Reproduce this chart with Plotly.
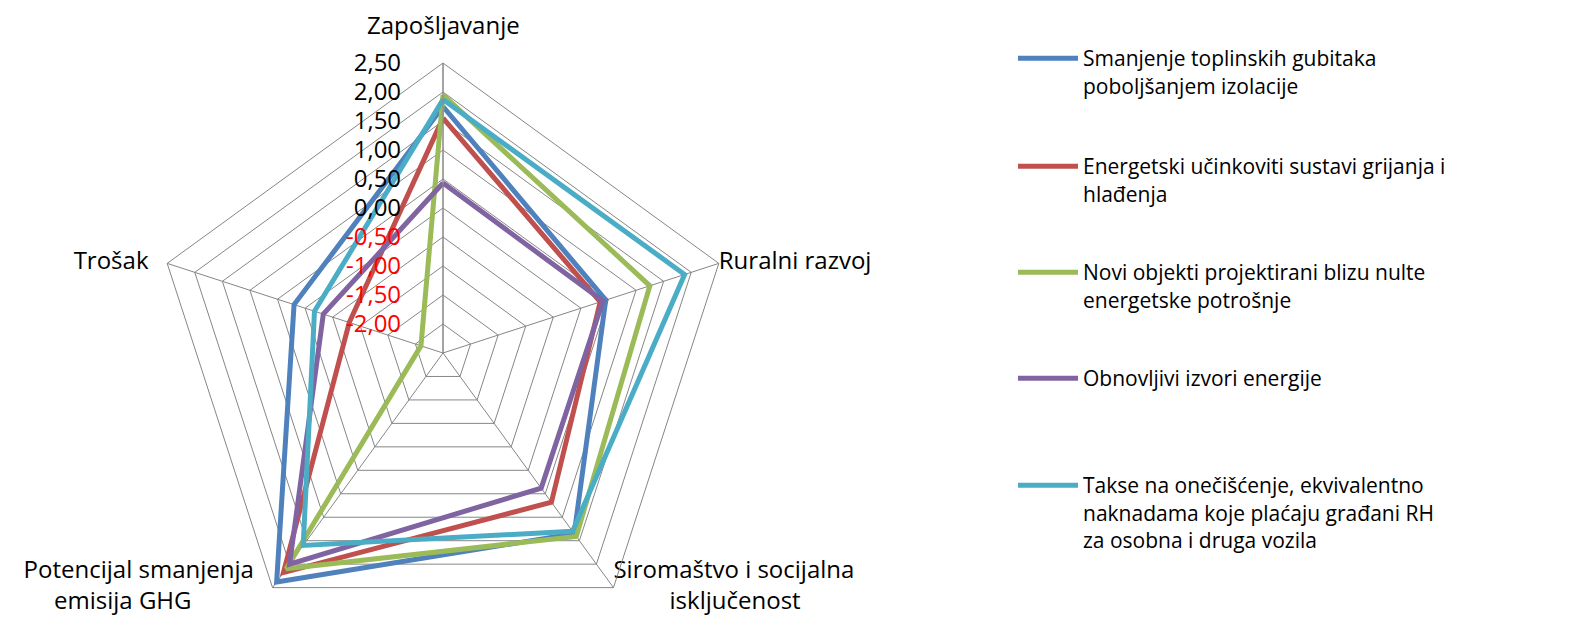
import plotly.graph_objects as go

NB = "&nbsp;"
categories = ["Zapošljavanje", "Ruralni razvoj", "Siromaštvo i socijalna isključenost",
              "Potencijal smanjenja emisija GHG", "Trošak"]
category_labels = ["Zapošljavanje",
                   "Ruralni razvoj",
                   "Siromaštvo i socijalna<br>" + NB * 9 + "isključenost",
                   "Potencijal smanjenja" + NB * 3 + "<br>emisija GHG" + NB * 13,
                   "Trošak" + NB * 3]
label_positions = ["top center", "middle right", "middle right", "middle left", "middle left"]

series_names = [
    "Smanjenje toplinskih gubitaka<br>poboljšanjem izolacije",
    "Energetski učinkoviti sustavi grijanja i<br>hlađenja",
    "Novi objekti projektirani blizu nulte<br>energetske potrošnje",
    "Obnovljivi izvori energije",
    "Takse na onečišćenje, ekvivalentno<br>naknadama koje plaćaju građani RH<br>za osobna i druga vozila",
]

izolacija = [1.75, 0.45, 1.35, 2.38, 0.20]
grijanje = [1.55, 0.35, 0.68, 2.18, -0.80]
nulta = [1.95, 1.25, 1.41, 2.10, -2.10]
obnovljivi = [0.43, 0.40, 0.38, 2.00, -0.33]
takse = [1.87, 1.88, 1.30, 1.60, -0.17]

series_values = [izolacija, grijanje, nulta, obnovljivi, takse]
colors = ["#4F81BD", "#C0504D", "#9BBB59", "#8064A2", "#4BACC6"]

r_min, r_max = -2.5, 2.5
tick_vals = [-2.0, -1.5, -1.0, -0.5, 0.0, 0.5, 1.0, 1.5, 2.0, 2.5]
tick_text = ["-2,00", "-1,50", "-1,00", "-0,50", "0,00", "0,50", "1,00", "1,50", "2,00", "2,50"]
tick_labels = [f'<span style="color:#FF0000">{t}</span>' if v < 0 else t for v, t in zip(tick_vals, tick_text)]

legend_ids = ["legend", "legend2", "legend3", "legend4", "legend5"]
legend_top_px = [30, 138, 244, 350, 457]

W, H = 1587, 641
FONT = "Open Sans"
dom_x = [145 / W, 725 / W]
dom_y = [6 / H, 586 / H]

fig = go.Figure()
for name, vals, col, lg in zip(series_names, series_values, colors, legend_ids):
    fig.add_trace(go.Scatterpolar(
        r=vals + vals[:1], theta=categories + categories[:1],
        mode="lines", name=name, line=dict(color=col, width=5),
        legend=lg, showlegend=True,
    ))

# category labels at the outer end of the spokes (all but the top one)
fig.add_trace(go.Scatterpolar(
    r=[r_max] * (len(categories) - 1), theta=categories[1:], mode="text",
    text=category_labels[1:], textposition=label_positions[1:],
    textfont=dict(family=FONT, size=24, color="#000000"),
    showlegend=False, hoverinfo="skip", cliponaxis=False,
))

# top spoke label, above the polar area
fig.add_annotation(
    text=category_labels[0], xref="paper", yref="paper",
    x=(dom_x[0] + dom_x[1]) / 2, y=dom_y[1], xanchor="center", yanchor="bottom",
    yshift=20, showarrow=False, font=dict(family=FONT, size=24, color="#000000"),
)

leg_common = dict(font=dict(family=FONT, size=21, color="#000000"), bgcolor="rgba(0,0,0,0)",
                  valign="top", itemwidth=60, x=1005 / W, xanchor="left", yanchor="top")
legends = {}
for lg, top in zip(legend_ids, legend_top_px):
    legends[lg] = dict(leg_common, y=1 - top / H)

fig.update_layout(
    width=W, height=H,
    margin=dict(l=0, r=0, t=0, b=0),
    paper_bgcolor="white", plot_bgcolor="white",
    polar=dict(
        domain=dict(x=dom_x, y=dom_y),
        bgcolor="white",
        gridshape="linear",
        radialaxis=dict(range=[r_min, r_max], tickvals=tick_vals, ticktext=tick_labels,
                        angle=90, tickangle=90, side="counterclockwise",
                        showline=True, linecolor="#868686", linewidth=1,
                        gridcolor="#868686", gridwidth=1,
                        ticks="outside", ticklen=33, tickcolor="rgba(0,0,0,0)",
                        tickfont=dict(family=FONT, size=24, color="#000000"),
                        layer="above traces"),
        angularaxis=dict(rotation=90, direction="clockwise",
                         showline=True, linecolor="#868686", linewidth=1,
                         gridcolor="#868686", gridwidth=1,
                         showticklabels=False, ticks=""),
    ),
    **legends,
)

fig.write_html("out.html")
